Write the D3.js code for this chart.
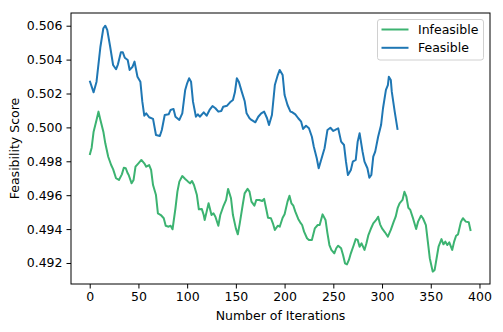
<!DOCTYPE html>
<html>
<head>
<meta charset="utf-8">
<script src="https://cdn.jsdelivr.net/npm/d3@7"></script>
<style>
  body { margin: 0; background: #fff; }
  svg { display: block; font-family: "DejaVu Sans", sans-serif; }
</style>
</head>
<body>
<div id="chart"></div>
<script>
// values
var feasIter = [0,4,7,11,14,16,18,21,24,27,29,32,34,36,39,41,44,46,49,52,54,56,58,61,65,68,72,74,77,81,83,86,88,92,95,98,100,102,104,106,109,111,113,117,120,123,126,129,132,135,137,141,144,147,149,151,153,156,159,161,164,166,170,173,176,179,182,184,187,190,193,195,198,200,203,206,208,211,214,217,219,222,225,228,230,233,235,238,241,244,247,250,252,255,258,261,263,265,268,270,273,275,277,280,282,285,287,289,291,293,296,299,301,304,306,307,309,310,313,316];
var feasScore = [.50275,.50207,.50270,.50476,.50585,.50600,.50575,.50476,.50368,.50343,.50372,.50443,.50443,.50411,.50398,.50339,.50358,.50388,.50299,.50270,.50152,.50069,.50083,.50060,.50050,.49955,.49949,.49985,.50073,.50077,.50103,.50109,.50063,.50044,.50083,.50221,.50260,.50290,.50270,.50152,.50063,.50077,.50063,.50089,.50069,.50103,.50126,.50113,.50093,.50097,.50122,.50128,.50148,.50162,.50207,.50290,.50270,.50211,.50156,.50083,.50054,.50044,.50030,.50063,.50083,.50093,.50054,.50014,.50073,.50250,.50309,.50339,.50309,.50191,.50132,.50093,.50089,.50077,.50054,.50034,.49991,.50010,.49995,.49945,.49886,.49818,.49759,.49818,.49877,.49985,.49998,.49979,.49985,.49995,.49916,.49896,.49798,.49719,.49749,.49798,.49808,.49916,.49965,.49857,.49798,.49759,.49703,.49719,.49827,.49857,.49945,.50014,.50113,.50221,.50250,.50299,.50280,.50211,.50093,.49985];

var infIter = [0,2,4,7,9,11,14,16,19,22,24,27,30,33,35,37,39,40,43,45,47,50,53,56,58,61,63,65,68,70,73,76,78,81,83,85,88,90,92,95,98,101,103,105,107,110,112,115,117,118,120,122,125,127,129,132,134,137,140,142,145,147,150,152,154,157,159,162,164,166,169,171,174,177,179,181,183,186,188,190,193,195,198,200,203,205,207,209,211,214,216,218,220,223,225,228,231,234,236,239,242,244,246,248,251,253,255,258,260,262,264,266,268,271,273,275,277,279,282,284,286,289,291,294,296,298,300,303,306,309,312,314,316,318,321,323,325,327,329,332,335,337,340,342,345,347,349,352,354,356,358,361,363,365,367,369,372,374,376,378,381,383,386,389,390,391];
var infScore = [.49837,.49880,.49975,.50044,.50093,.50044,.49975,.49906,.49827,.49778,.49754,.49700,.49690,.49723,.49762,.49759,.49729,.49719,.49670,.49690,.49768,.49788,.49808,.49788,.49768,.49778,.49749,.49660,.49601,.49493,.49483,.49464,.49420,.49414,.49420,.49399,.49523,.49621,.49680,.49713,.49696,.49680,.49670,.49684,.49660,.49601,.49517,.49519,.49483,.49454,.49503,.49552,.49483,.49493,.49473,.49420,.49483,.49532,.49572,.49637,.49582,.49483,.49404,.49369,.49434,.49542,.49611,.49637,.49621,.49562,.49538,.49572,.49572,.49566,.49578,.49523,.49467,.49464,.49434,.49395,.49420,.49414,.49467,.49487,.49562,.49597,.49552,.49538,.49503,.49460,.49440,.49424,.49385,.49346,.49336,.49336,.49404,.49424,.49424,.49487,.49454,.49375,.49306,.49277,.49257,.49287,.49302,.49287,.49247,.49198,.49192,.49218,.49257,.49306,.49341,.49336,.49296,.49316,.49277,.49316,.49365,.49408,.49434,.49454,.49473,.49428,.49404,.49381,.49355,.49395,.49444,.49473,.49523,.49552,.49572,.49620,.49591,.49526,.49513,.49460,.49401,.49444,.49479,.49464,.49424,.49326,.49228,.49149,.49159,.49228,.49296,.49341,.49310,.49326,.49306,.49322,.49277,.49326,.49361,.49369,.49444,.49464,.49444,.49440,.49414,.49389];

var xTicks = [0,50,100,150,200,250,300,350,400];
var yTicks = [0.492,0.494,0.496,0.498,0.500,0.502,0.504,0.506];
var seriesNames = ["Infeasible","Feasible"];
var seriesColors = ["#3cb371","#1f77b4"];

var W = 503, H = 332;
var margin = {top: 13, right: 13, bottom: 48, left: 71};
var fs = "12.5px";

var svg = d3.select("#chart").append("svg")
    .attr("width", W)
    .attr("height", H);

var x = d3.scaleLinear().domain([-19.2, 410.8]).range([margin.left, W - margin.right]);
var y = d3.scaleLinear().domain([0.49076, 0.50675]).range([H - margin.bottom, margin.top]);

var line = d3.line()
    .x(function(d) { return x(d[0]); })
    .y(function(d) { return y(d[1]); });

var series = [
    d3.zip(infIter, infScore),
    d3.zip(feasIter, feasScore)
];

svg.selectAll("path.series")
    .data(series)
    .enter()
    .append("path")
    .attr("class", "series")
    .attr("d", line)
    .attr("fill", "none")
    .attr("stroke", function(d, i) { return seriesColors[i]; })
    .attr("stroke-width", 2)
    .attr("stroke-linejoin", "round");

// axes
var gx = svg.append("g")
    .attr("transform", "translate(0," + (H - margin.bottom) + ")")
    .call(d3.axisBottom(x).tickValues(xTicks).tickSize(4.5).tickPadding(4).tickFormat(d3.format("d")));
var gy = svg.append("g")
    .attr("transform", "translate(" + margin.left + ",0)")
    .call(d3.axisLeft(y).tickValues(yTicks).tickSize(4.5).tickPadding(4).tickFormat(d3.format(".3f")));

[gx, gy].forEach(function(g) {
    g.select(".domain").remove();
    g.selectAll("line").attr("stroke", "#000").attr("stroke-width", 1);
    g.selectAll("text").attr("fill", "#000").style("font-size", fs).style("font-family", "DejaVu Sans");
});

// frame
svg.append("rect")
    .attr("x", margin.left)
    .attr("y", margin.top)
    .attr("width", W - margin.left - margin.right)
    .attr("height", H - margin.top - margin.bottom)
    .attr("fill", "none")
    .attr("stroke", "#000")
    .attr("stroke-width", 1);

svg.append("text")
    .attr("x", (margin.left + W - margin.right) / 2)
    .attr("y", 320)
    .attr("text-anchor", "middle")
    .style("font-size", fs)
    .text("Number of Iterations");

svg.append("text")
    .attr("transform", "translate(19," + (margin.top + (H - margin.top - margin.bottom) / 2) + ") rotate(-90)")
    .attr("text-anchor", "middle")
    .style("font-size", fs)
    .text("Feasibility Score");

// legend
var leg = svg.append("g");
leg.append("rect")
    .attr("x", 377.5)
    .attr("y", 19.5)
    .attr("width", 106)
    .attr("height", 40.5)
    .attr("rx", 2.5)
    .attr("fill", "#fff")
    .attr("fill-opacity", 0.8)
    .attr("stroke", "#d0d0d0");

var rows = leg.selectAll("g.row")
    .data(seriesNames)
    .enter()
    .append("g")
    .attr("class", "row")
    .attr("transform", function(d, i) { return "translate(0," + (29.5 + i * 18.3) + ")"; });
rows.append("line")
    .attr("x1", 381.5).attr("x2", 408.5)
    .attr("stroke", function(d, i) { return seriesColors[i]; })
    .attr("stroke-width", 2);
rows.append("text")
    .attr("x", 418)
    .attr("dy", "0.35em")
    .style("font-size", fs)
    .text(function(d) { return d; });
</script>
</body>
</html>
